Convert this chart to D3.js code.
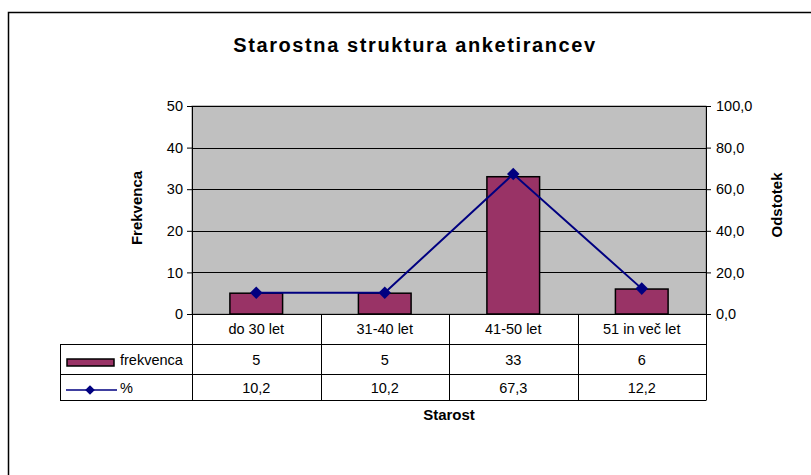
<!DOCTYPE html>
<html>
<head>
<meta charset="utf-8">
<script src="https://cdn.jsdelivr.net/npm/d3@7"></script>
<style>
body { margin:0; background:#fff; }
text { font-family: "Liberation Sans", Arial, sans-serif; fill:#000; }
</style>
</head>
<body>
<svg id="chart"></svg>
<script>
// age groups and values
var categories = ["do 30 let","31-40 let","41-50 let","51 in več let"];
var frekvenca = [5,5,33,6];
var odstotek = [10.2,10.2,67.3,12.2];
var leftTicks = [0,10,20,30,40,50];
var rightTicks = [0,20,40,60,80,100];

var fmt = function(d){ return d.toFixed(1).replace(".",","); };

var screen = {width:811, height:475};
var plot = {left:192, right:706, top:106, bottom:314};
var rows = {cat:344, frek:374, pct:400, tableLeft:60};

var svg = d3.select("#chart")
    .attr("width",screen.width)
    .attr("height",screen.height);

// outer frame (only top and left visible)
svg.append("path")
    .attr("d","M8.5,475 L8.5,12.5 L811,12.5")
    .attr("fill","none")
    .attr("stroke","#000")
    .attr("stroke-width",1.5);

svg.append("text")
    .attr("x",415).attr("y",52)
    .attr("text-anchor","middle")
    .style("font-size","20px")
    .style("font-weight","bold")
    .style("letter-spacing","1.6px")
    .text("Starostna struktura anketirancev");

var xScale = d3.scaleBand()
    .domain(categories)
    .range([plot.left,plot.right])
    .paddingInner(0).paddingOuter(0);

var yLeft = d3.scaleLinear().domain([0,50]).range([plot.bottom,plot.top]);
var yRight = d3.scaleLinear().domain([0,100]).range([plot.bottom,plot.top]);

// plot background
svg.append("rect")
    .attr("x",plot.left).attr("y",plot.top)
    .attr("width",plot.right-plot.left)
    .attr("height",plot.bottom-plot.top)
    .attr("fill","#c0c0c0")
    .attr("stroke","#808080");

// gridlines
svg.append("g").selectAll("line")
    .data(leftTicks.slice(1))
    .enter().append("line")
    .attr("x1",plot.left).attr("x2",plot.right)
    .attr("y1",function(d){ return Math.round(yLeft(d))+0.5; })
    .attr("y2",function(d){ return Math.round(yLeft(d))+0.5; })
    .attr("stroke","#000");

// axes
var leftAxis = svg.append("g")
    .attr("transform","translate("+plot.left+",0)")
    .call(d3.axisLeft(yLeft).tickValues(leftTicks).tickSize(5).tickPadding(4));
var rightAxis = svg.append("g")
    .attr("transform","translate("+plot.right+",0)")
    .call(d3.axisRight(yRight).tickValues(rightTicks).tickFormat(fmt).tickSize(5).tickPadding(5));

[leftAxis,rightAxis].forEach(function(a){
    a.select(".domain").remove();
    a.selectAll("text").style("font-size","14.5px").style("font-family","Liberation Sans, Arial, sans-serif").attr("fill","#000");
    a.selectAll("line").attr("stroke","#000");
});

svg.append("line")
    .attr("x1",plot.left+0.5).attr("x2",plot.left+0.5)
    .attr("y1",plot.top).attr("y2",rows.pct)
    .attr("stroke","#000");
svg.append("line")
    .attr("x1",plot.right+0.5).attr("x2",plot.right+0.5)
    .attr("y1",plot.top).attr("y2",rows.pct)
    .attr("stroke","#000");

// bars
var barW = xScale.bandwidth()*0.41;
svg.append("g").selectAll("rect")
    .data(frekvenca)
    .enter().append("rect")
    .attr("x",function(d,i){ return xScale(categories[i])+xScale.bandwidth()/2-barW/2; })
    .attr("y",function(d){ return yLeft(d); })
    .attr("width",barW)
    .attr("height",function(d){ return plot.bottom-yLeft(d); })
    .attr("fill","#993366")
    .attr("stroke","#000")
    .attr("stroke-width",1.5);

// line + markers
var line = d3.line()
    .x(function(d,i){ return xScale(categories[i])+xScale.bandwidth()/2; })
    .y(function(d){ return yRight(d); });

svg.append("path")
    .datum(odstotek)
    .attr("d",line)
    .attr("fill","none")
    .attr("stroke","#000080")
    .attr("stroke-width",2);

var diamond = d3.symbol().type(d3.symbolDiamond2).size(100);
svg.append("g").selectAll("path")
    .data(odstotek)
    .enter().append("path")
    .attr("d",diamond)
    .attr("transform",function(d,i){
        return "translate("+(xScale(categories[i])+xScale.bandwidth()/2)+","+yRight(d)+")";
    })
    .attr("fill","#000080");

// zero line
svg.append("line")
    .attr("x1",plot.left).attr("x2",plot.right+5)
    .attr("y1",plot.bottom+0.5).attr("y2",plot.bottom+0.5)
    .attr("stroke","#000");

// data table
var table = svg.append("g");
var hl = [rows.cat,rows.frek,rows.pct];
table.selectAll("line.h")
    .data(hl)
    .enter().append("line")
    .attr("x1",rows.tableLeft).attr("x2",plot.right+0.5)
    .attr("y1",function(d){ return d+0.5; })
    .attr("y2",function(d){ return d+0.5; })
    .attr("stroke","#000");
table.append("line")
    .attr("x1",rows.tableLeft+0.5).attr("x2",rows.tableLeft+0.5)
    .attr("y1",rows.cat).attr("y2",rows.pct+1)
    .attr("stroke","#000");
table.selectAll("line.v")
    .data(categories.slice(1))
    .enter().append("line")
    .attr("x1",function(d){ return Math.round(xScale(d))+0.5; })
    .attr("x2",function(d){ return Math.round(xScale(d))+0.5; })
    .attr("y1",plot.bottom).attr("y2",rows.pct)
    .attr("stroke","#000");

var cx = function(i){ return xScale(categories[i])+xScale.bandwidth()/2; };

table.selectAll("text.cat")
    .data(categories)
    .enter().append("text")
    .attr("x",function(d,i){ return cx(i); })
    .attr("y",334)
    .attr("text-anchor","middle")
    .style("font-size","14.5px")
    .text(function(d){ return d; });

table.selectAll("text.frek")
    .data(frekvenca)
    .enter().append("text")
    .attr("x",function(d,i){ return cx(i); })
    .attr("y",365)
    .attr("text-anchor","middle")
    .style("font-size","14.5px")
    .text(function(d){ return d; });

table.selectAll("text.pct")
    .data(odstotek)
    .enter().append("text")
    .attr("x",function(d,i){ return cx(i); })
    .attr("y",393)
    .attr("text-anchor","middle")
    .style("font-size","14.5px")
    .text(fmt);

// legend keys in the table
table.append("rect")
    .attr("x",67).attr("y",359)
    .attr("width",47).attr("height",7)
    .attr("fill","#993366")
    .attr("stroke","#000")
    .attr("stroke-width",1.5);
table.append("text")
    .attr("x",120).attr("y",365)
    .style("font-size","14.5px")
    .text("frekvenca");
table.append("line")
    .attr("x1",66).attr("x2",117)
    .attr("y1",390).attr("y2",390)
    .attr("stroke","#000080")
    .attr("stroke-width",1.5);
table.append("path")
    .attr("d",d3.symbol().type(d3.symbolDiamond2).size(60))
    .attr("transform","translate(90,390)")
    .attr("fill","#000080");
table.append("text")
    .attr("x",120).attr("y",393)
    .style("font-size","14.5px")
    .text("%");

// axis titles
svg.append("text")
    .attr("transform","translate(142,208) rotate(-90)")
    .attr("text-anchor","middle")
    .style("font-size","15px")
    .style("font-weight","bold")
    .text("Frekvenca");
svg.append("text")
    .attr("transform","translate(782,205) rotate(-90)")
    .attr("text-anchor","middle")
    .style("font-size","15px")
    .style("font-weight","bold")
    .text("Odstotek");
svg.append("text")
    .attr("x",449).attr("y",420)
    .attr("text-anchor","middle")
    .style("font-size","15px")
    .style("font-weight","bold")
    .text("Starost");
</script>
</body>
</html>
